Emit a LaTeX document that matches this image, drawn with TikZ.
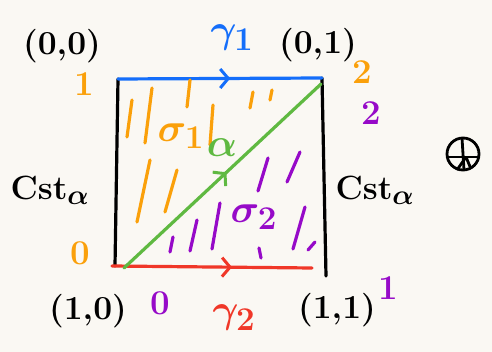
\documentclass[tikz,border=0pt]{standalone}
\usepackage{amsmath,amssymb}
\usepackage{tikz}
\usetikzlibrary{arrows.meta, decorations.markings}

\definecolor{paper}{RGB}{250,248,243}
\definecolor{penblue}{RGB}{20,110,250}
\definecolor{penorange}{RGB}{250,160,10}
\definecolor{penpurple}{RGB}{150,10,200}
\definecolor{pengreen}{RGB}{95,185,65}
\definecolor{penred}{RGB}{240,55,40}

\begin{document}
\begin{tikzpicture}[
    x=1pt, y=-1pt,
    lbl/.style={inner sep=0pt, font=\Huge\bfseries\boldmath, scale=1.35},
    greek/.style={inner sep=0pt, font=\Huge\boldmath, scale=1.6},
    num/.style={inner sep=0pt, font=\Huge\bfseries, scale=1.4},
    side/.style={line width=3.2pt, line cap=round},
    hatch/.style={line width=3.2pt, line cap=round},
    midarrow/.style={postaction={decorate, decoration={markings,
        mark=at position #1 with {\arrow[line width=3pt]{Straight Barb[length=8pt, width=19pt]}}}}}
]
\useasboundingbox[fill=paper] (0,0) rectangle (492,352);

% corners of the square
\coordinate (ul) at (118,79);
\coordinate (ur) at (322,78);
\coordinate (ll) at (115,266);
\coordinate (lr) at (326,276);
\coordinate (rs) at (112,266);
\coordinate (re) at (312,268);
\coordinate (gs) at (124,268);
\coordinate (ge) at (321,84);

% sides
\draw[side] (ul) -- (ll);
\draw[side] (ur) -- (lr);
\draw[side, penblue, midarrow=0.55] (ul) -- (ur);
\draw[side, penred, midarrow=0.6] (rs) -- (re);
\draw[side, pengreen, midarrow=0.52] (gs) -- (ge);

% hatching
\foreach \a/\b/\c/\d in {127/137/132/100, 145/143/152/88, 187/107/190/80,
    210/145/213/105, 250/108/253/92, 270/100/272/90, 137/222/150/160,
    165/212/177/170}
  \draw[hatch, penorange] (\a,\b) -- (\c,\d);
\foreach \a/\b/\c/\d in {170/252/173/237, 190/251/197/220, 212/249/220/203,
    258/191/268/158, 287/182/300/152, 259/248/261/258, 293/249/305/207,
    308/250/315/242}
  \draw[hatch, penpurple] (\a,\b) -- (\c,\d);

% corner labels
\node[lbl] (c00) at (62,46) {(0,0)};
\node[lbl] (c01) at (318,45) {(0,1)};
\node[lbl] (c10) at (88,311) {(1,0)};
\node[lbl] (c11) at (337,310) {(1,1)};
\node[lbl] (cstl) at (50,190) {Cst$_\alpha$};
\node[lbl] (cstr) at (375,190) {Cst$_\alpha$};

% path labels
\node[greek, penblue] (g1) at (232,38) {$\gamma_1$};
\node[greek, penred] (g2) at (234,318) {$\gamma_2$};
\node[greek, penorange] (s1) at (181,136) {$\sigma_1$};
\node[greek, pengreen] (al) at (222,148) {$\alpha$};
\node[greek, penpurple] (s2) at (254,217) {$\sigma_2$};

% end values
\node[num, penorange] (o1) at (84,84) {1};
\node[num, penorange] (o0) at (80,253) {0};
\node[num, penorange] (o2) at (362,72) {2};
\node[num, penpurple] (p2) at (371,113) {2};
\node[num, penpurple] (p0) at (160,303) {0};
\node[num, penpurple] (p1) at (388,288) {1};

% the little symbol on the right
\draw[line width=2.8pt] (463,154) circle (16);
\draw[line width=2.8pt] (447,157) -- (479,157);
\draw[line width=2.8pt] (462,138) -- (464,170);
\draw[line width=2.8pt] (466,157) -- (457,170);
\draw[line width=2.8pt] (466,157) -- (471,169);
\end{tikzpicture}
\end{document}
